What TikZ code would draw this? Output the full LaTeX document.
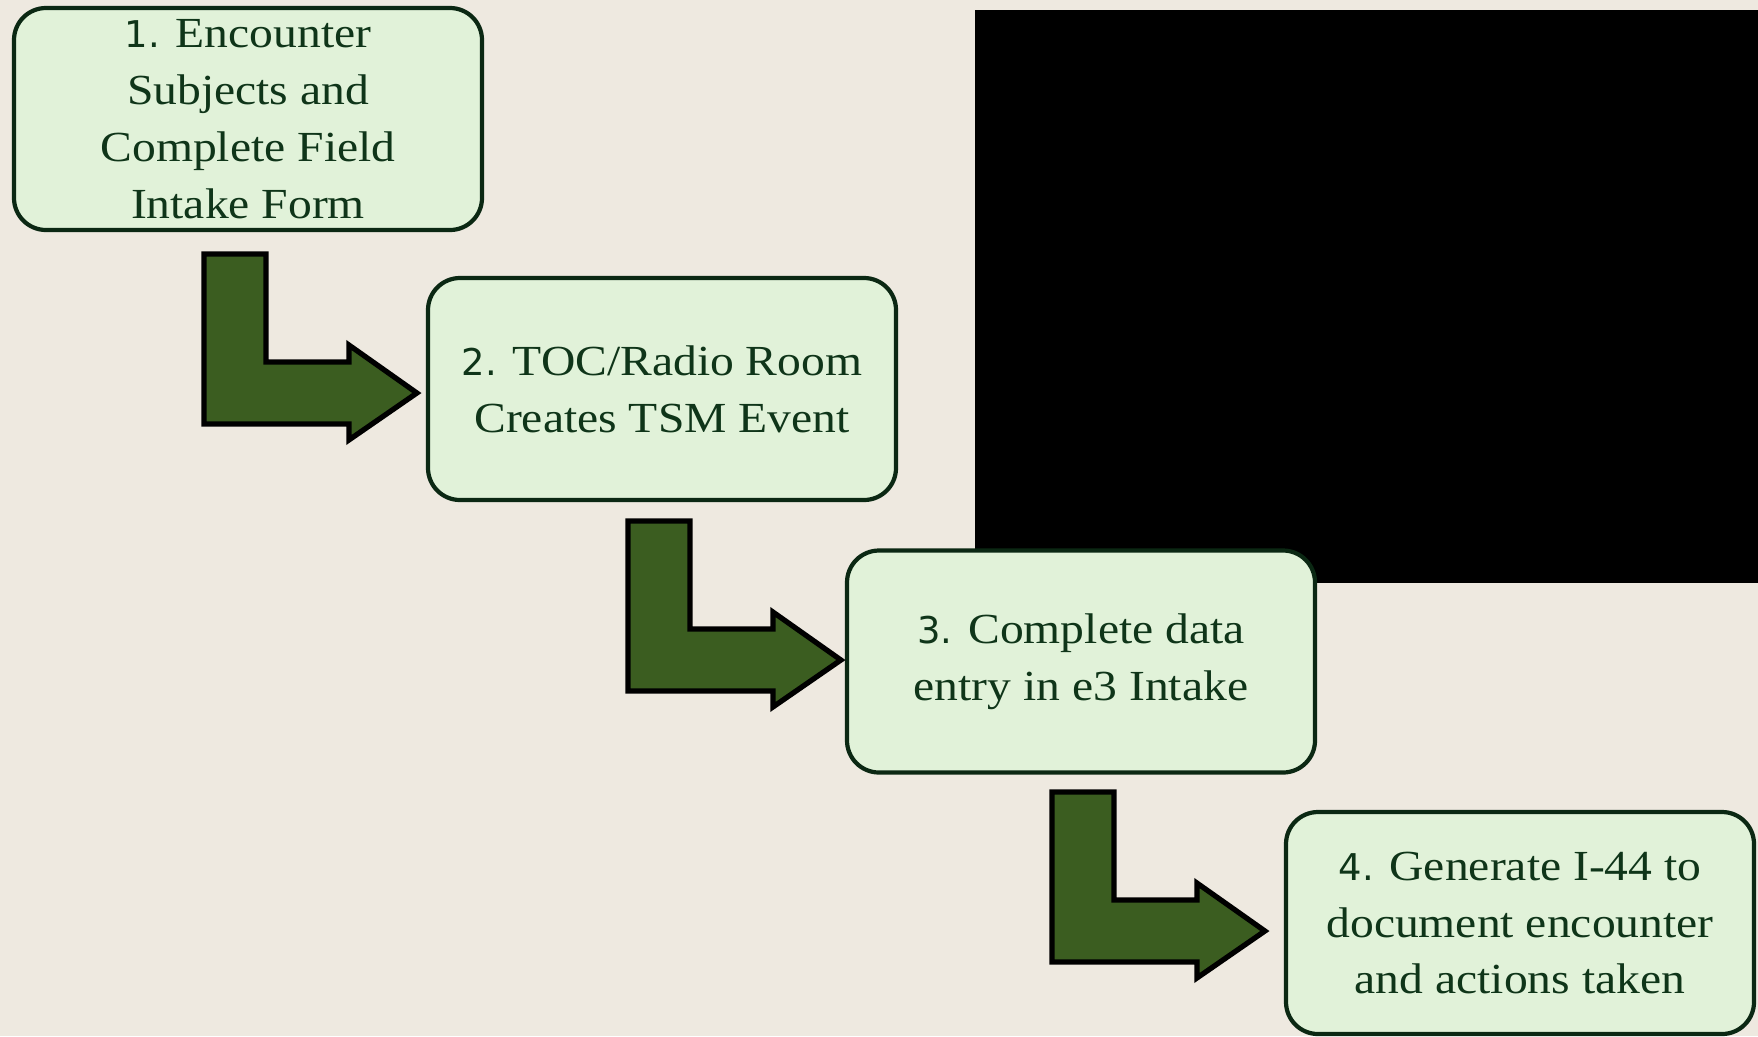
\documentclass[tikz,border=0pt]{standalone}
\usepackage{fontspec}
\setmainfont{Liberation Serif}[FakeStretch=1.11]
\newfontfamily\numfont{DejaVu Sans}[Scale=0.86]
\usepackage{tikz}
\usetikzlibrary{positioning, calc}

\definecolor{paper}{HTML}{EEE9E0}
\definecolor{boxfill}{HTML}{E1F2D9}
\definecolor{boxline}{HTML}{0B2813}
\definecolor{textgreen}{HTML}{0F3519}
\definecolor{arrowgreen}{HTML}{3B5D20}

\tikzset{
  stepbox/.style={draw=boxline, line width=1.2pt, fill=boxfill, rounded corners=0.32cm,
    minimum width=4.68cm, minimum height=2.22cm, inner sep=0pt, align=center,
    text=textgreen, font=\fontsize{12.2pt}{16.2pt}\selectfont},
  bentarrow/.pic={
    \filldraw[fill=arrowgreen, draw=black, line width=1.5pt, line join=miter]
      (-2.13,1.39) -- (-1.51,1.39) -- (-1.51,0.31) -- (-0.68,0.31) -- (-0.68,0.48)
      -- (0,0) -- (-0.68,-0.47) -- (-0.68,-0.31) -- (-2.13,-0.31) -- cycle;
  }
}

\begin{document}
\begin{tikzpicture}[node distance=2.7cm and 4.14cm, on grid]
  \fill[paper] (0,0) rectangle (17.58,-10.36);
  \useasboundingbox (0,0) rectangle (17.58,-10.36);
  \fill[black] (9.75,-0.10) rectangle (17.58,-5.83);

  \node[stepbox] (b1) at (2.48,-1.19)
    {{\numfont 1.} Encounter\\Subjects and\\Complete Field\\Intake Form};
  \node[stepbox, below right=2.70cm and 4.14cm of b1] (b2)
    {{\numfont 2.} TOC/Radio Room\\Creates TSM Event};
  \node[stepbox, below right=2.725cm and 4.19cm of b2] (b3)
    {{\numfont 3.} Complete data\\entry in e3 Intake};
  \node[stepbox, below right=2.615cm and 4.39cm of b3] (b4)
    {{\numfont 4.} Generate I-44 to\\document encounter\\and actions taken};

  \pic at ($(b2.west)+(-0.09,-0.04)$) {bentarrow};
  \pic at ($(b3.west)+(-0.04,0.015)$) {bentarrow};
  \pic at ($(b4.west)+(-0.19,-0.08)$) {bentarrow};
\end{tikzpicture}
\end{document}
